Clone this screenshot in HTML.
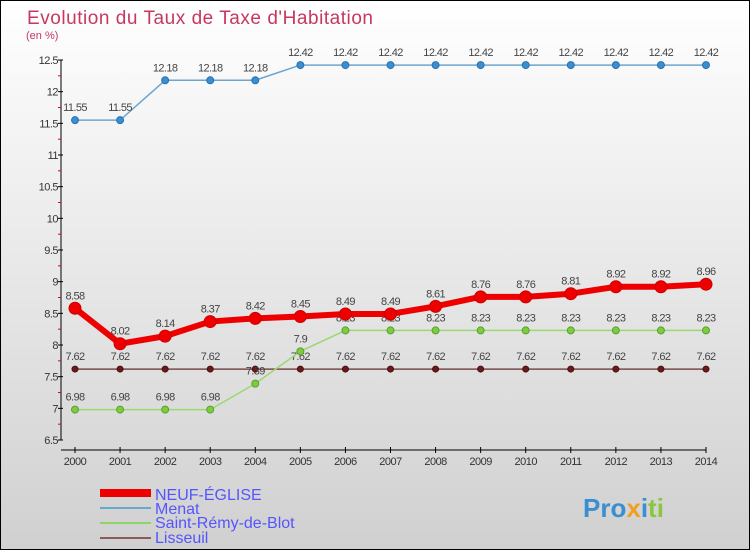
<!DOCTYPE html>
<html><head><meta charset="utf-8"><style>
body{margin:0;width:750px;height:550px;overflow:hidden;font-family:"Liberation Sans",sans-serif}
svg text{font-family:"Liberation Sans",sans-serif}
</style></head><body>
<svg id="c" width="750" height="550" xmlns="http://www.w3.org/2000/svg">
<defs><linearGradient id="bg" x1="0" y1="0" x2="0" y2="1"><stop offset="0" stop-color="#ffffff"/><stop offset="1" stop-color="#d0d0d0"/></linearGradient></defs>
<rect x="0.5" y="0.5" width="749" height="549" fill="url(#bg)" stroke="#000"/>
<text x="27" y="24" font-size="19" fill="#c8375f" textLength="346">Evolution du Taux de Taxe d'Habitation</text>
<text x="26" y="39" font-size="11" fill="#c8375f">(en %)</text>
<g id="axes"></g><g id="series"></g>
<g>
<rect x="100" y="489" width="51" height="8" fill="#e00"/>
<text x="155" y="500" font-size="16" fill="#5555ff">NEUF-ÉGLISE</text>
<line x1="100" y1="508" x2="151" y2="508" stroke="#6aa6d0" stroke-width="2"/>
<text x="155" y="514" font-size="16" fill="#5555ff">Menat</text>
<line x1="100" y1="523" x2="151" y2="523" stroke="#8fd46a" stroke-width="2"/>
<text x="155" y="528" font-size="16" fill="#5555ff">Saint-Rémy-de-Blot</text>
<line x1="100" y1="538" x2="151" y2="538" stroke="#8b5a5a" stroke-width="2"/>
<text x="155" y="543" font-size="16" fill="#5555ff">Lisseuil</text>
</g>
<text x="583" y="517" font-size="26" font-weight="bold"><tspan fill="#3a8fd0">Pro</tspan><tspan fill="#f0a020">x</tspan><tspan fill="#3a8fd0">i</tspan><tspan fill="#8cc63f">ti</tspan></text>
</svg>
<script>
const years=[2000,2001,2002,2003,2004,2005,2006,2007,2008,2009,2010,2011,2012,2013,2014];
const yTicks=[6.5,7,7.5,8,8.5,9,9.5,10,10.5,11,11.5,12,12.5];
const neufEglise=[8.58,8.02,8.14,8.37,8.42,8.45,8.49,8.49,8.61,8.76,8.76,8.81,8.92,8.92,8.96];
const menat=[11.55,11.55,12.18,12.18,12.18,12.42,12.42,12.42,12.42,12.42,12.42,12.42,12.42,12.42,12.42];
const saintRemy=[6.98,6.98,6.98,6.98,7.39,7.9,8.23,8.23,8.23,8.23,8.23,8.23,8.23,8.23,8.23];
const lisseuil=[7.62,7.62,7.62,7.62,7.62,7.62,7.62,7.62,7.62,7.62,7.62,7.62,7.62,7.62,7.62];
const NS="http://www.w3.org/2000/svg";
const xS=i=>75+i*(706-75)/(years.length-1);
const yS=v=>440-(v-6.5)*(380/6);
function mk(tag,at,parent){const e=document.createElementNS(NS,tag);for(const k in at)e.setAttribute(k,at[k]);parent.appendChild(e);return e;}
const ax=document.getElementById('axes'),sg=document.getElementById('series');
let l=mk('line',{x1:61,y1:yS(12.5),x2:61,y2:440,stroke:'#000'},ax);


l=mk('line',{x1:61,y1:450,x2:706,y2:450,stroke:'#000'},ax);


yTicks.forEach((v,i)=>{
  mk('line',{x1:58,y1:yS(v),x2:63,y2:yS(v),stroke:'#000'},ax);
  if(i<yTicks.length-1)mk('line',{x1:58,y1:yS(v+0.25),x2:61,y2:yS(v+0.25),stroke:'#e00'},ax);
  const t=mk('text',{x:58,y:yS(v)+4,'font-size':11,fill:'#333','text-anchor':'end','letter-spacing':'-0.5'},ax);
  t.textContent=String(v);
  
  
});
years.forEach((yr,i)=>{
  mk('line',{x1:xS(i),y1:447,x2:xS(i),y2:453,stroke:'#000'},ax);
  const t=mk('text',{x:xS(i),y:465,'font-size':11,fill:'#333','text-anchor':'middle','letter-spacing':'-0.5'},ax);
  t.textContent=String(yr);
  
  
});
function series(vals,name,col,dot,w,r,dotStroke){
  const g=mk('g',{},sg);
  
  
  mk('polyline',{points:vals.map((v,i)=>xS(i)+','+yS(v)).join(' '),fill:'none',stroke:col,'stroke-width':w,'stroke-linejoin':'round'},g);
  vals.forEach((v,i)=>{
    const c=mk('circle',{cx:xS(i),cy:yS(v),r:r,fill:dot,stroke:dotStroke,'stroke-width':1},g);
    
    
    const t=mk('text',{x:xS(i),y:yS(v)-9,'font-size':11,fill:'#444','text-anchor':'middle','letter-spacing':'-0.6'},g);
    t.textContent=v.toFixed(2).replace(/0$/,'').replace(/\.0$/,'');
    
    
  });
}
series(lisseuil,'lisseuil','#7a4a4a','#6b1a1a',1.5,3,'#4a1010');
series(saintRemy,'saint-remy','#9ad870','#7ccc40',1.5,3.5,'#5aa030');
series(menat,'menat','#6aa6d0','#3a8fd0',1.5,3.5,'#2a70b0');
series(neufEglise,'neuf-eglise','#ee0000','#ee0000',6,6,'#cc0000');
</script>
</body></html>
